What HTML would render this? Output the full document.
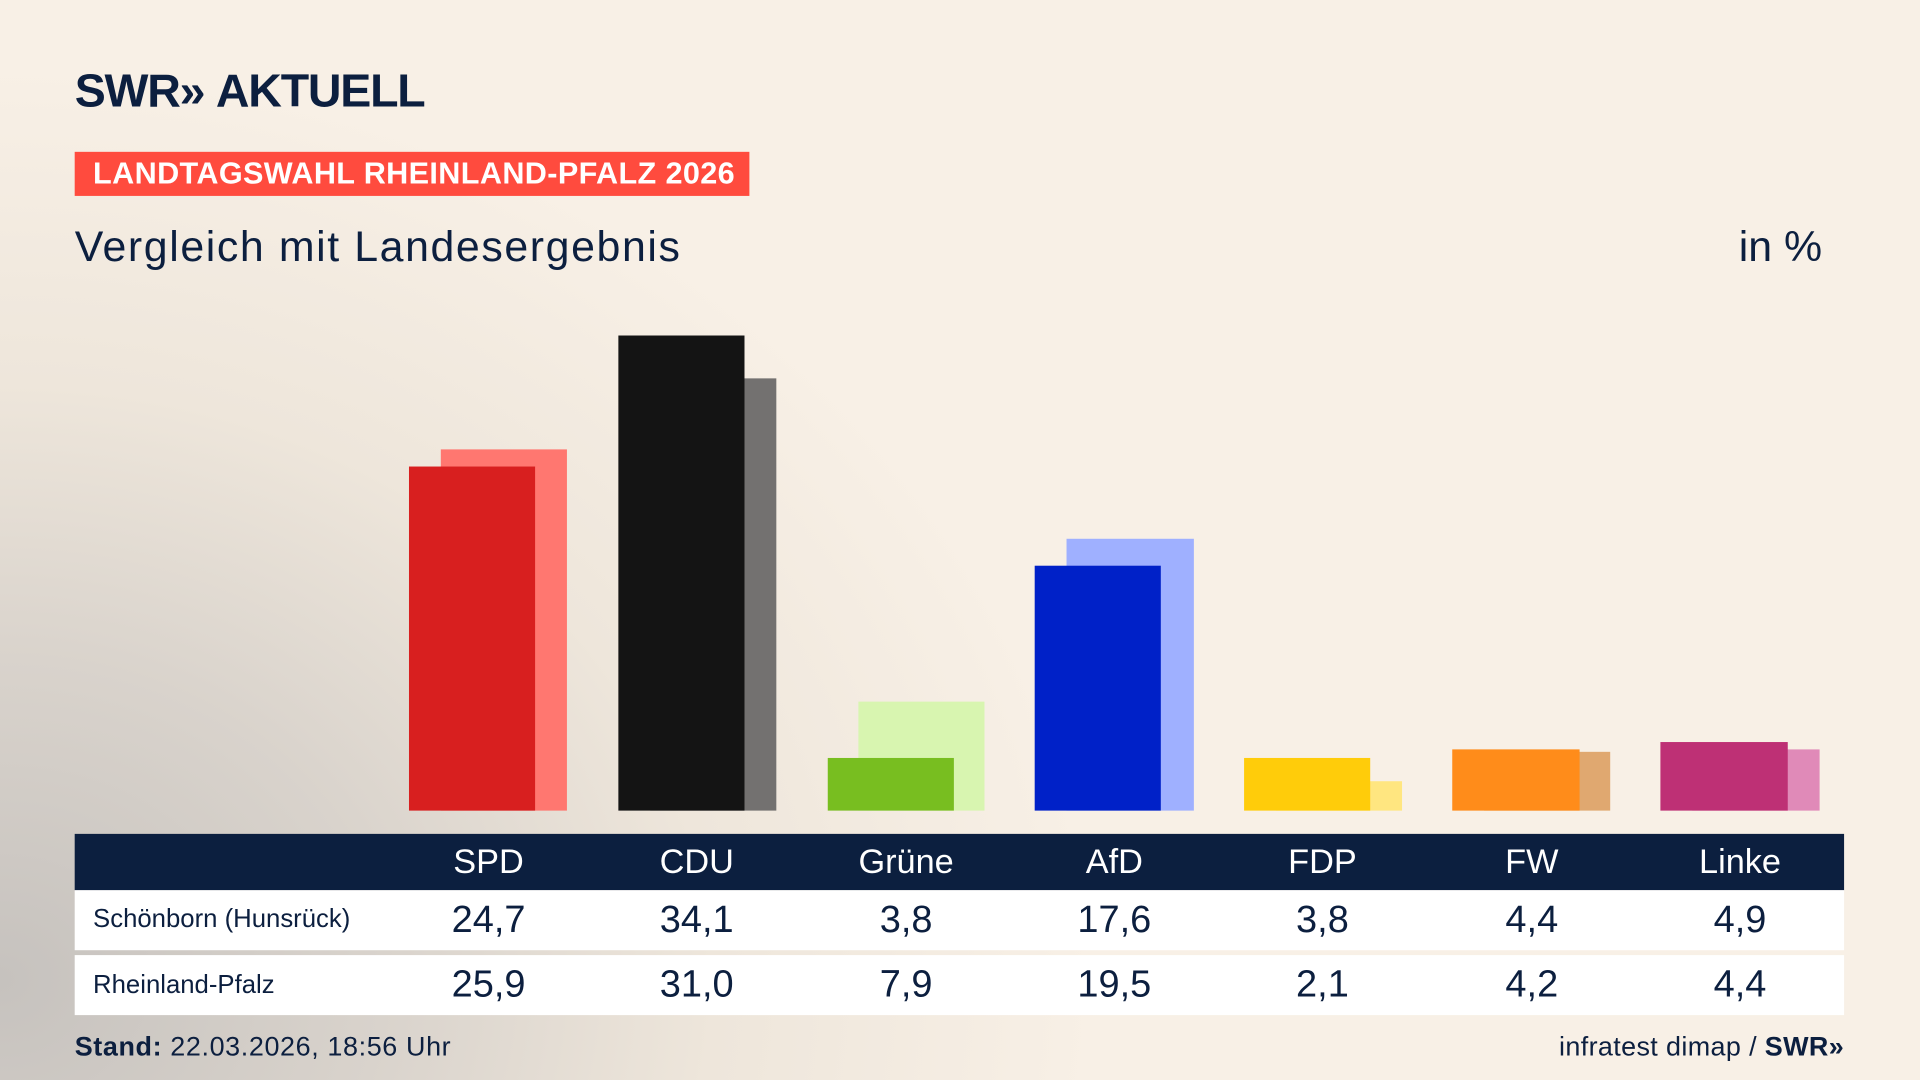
<!DOCTYPE html>
<html><head><meta charset="utf-8">
<style>
html,body{margin:0;padding:0;width:1920px;height:1080px;overflow:hidden;}
#w{position:absolute;left:0;top:0;width:1568px;height:882px;transform:scale(1.22449);transform-origin:0 0;
background:radial-gradient(ellipse 900px 750px at 0px 800px,#c6c2be 0%,#d9d3cc 35%,#eee6db 65%,#f8f0e6 100%);
font-family:"Liberation Sans",sans-serif;color:#0c1f3f;}
.a{position:absolute;}
.b{position:absolute;}
.hd{position:absolute;top:681px;left:61px;width:1445px;height:46px;background:#0c1f3f;}
.r{position:absolute;left:61px;width:1445px;height:49px;background:#fff;}
.c{position:absolute;width:160px;text-align:center;margin-left:-80px;}
</style></head><body><div id="w">
<div class="a" style="left:61px;top:54px;font-size:38px;font-weight:bold;letter-spacing:-1px;color:#0c1f3f;">SWR»&nbsp;AKTUELL</div>
<div class="a" style="left:61px;top:124px;width:551px;height:36px;background:#ff4b3e;"></div>
<div class="a" style="left:76px;top:128px;font-size:25px;font-weight:bold;color:#fff;letter-spacing:0.3px;">LANDTAGSWAHL RHEINLAND-PFALZ 2026</div>
<div class="a" style="left:61px;top:182px;font-size:35px;letter-spacing:1.3px;">Vergleich mit Landesergebnis</div>
<div class="a" style="left:1420px;top:182px;font-size:35px;">in %</div>

<div class="b" style="left:360px;top:367px;width:103px;height:295px;background:#ff7770"></div>
<div class="b" style="left:334px;top:381px;width:103px;height:281px;background:#d81f1f"></div>
<div class="b" style="left:531px;top:309px;width:103px;height:353px;background:#737170"></div>
<div class="b" style="left:505px;top:274px;width:103px;height:388px;background:#141414"></div>
<div class="b" style="left:701px;top:573px;width:103px;height:89px;background:#d8f5b0"></div>
<div class="b" style="left:676px;top:619px;width:103px;height:43px;background:#78be20"></div>
<div class="b" style="left:871px;top:440px;width:104px;height:222px;background:#9fb0ff"></div>
<div class="b" style="left:845px;top:462px;width:103px;height:200px;background:#0021c8"></div>
<div class="b" style="left:1042px;top:638px;width:103px;height:24px;background:#ffe680"></div>
<div class="b" style="left:1016px;top:619px;width:103px;height:43px;background:#ffcc0a"></div>
<div class="b" style="left:1212px;top:614px;width:103px;height:48px;background:#e0a870"></div>
<div class="b" style="left:1186px;top:612px;width:104px;height:50px;background:#ff8c1a"></div>
<div class="b" style="left:1382px;top:612px;width:104px;height:50px;background:#e08ab8"></div>
<div class="b" style="left:1356px;top:606px;width:104px;height:56px;background:#be3075"></div>

<div class="hd"></div>
<div class="r" style="top:727px"></div>
<div class="r" style="top:780px"></div>
<div style="position:absolute;left:0;top:688px;width:1568px;font-size:28px;color:#fff;">
<div class="c" style="left:399px">SPD</div><div class="c" style="left:569px">CDU</div><div class="c" style="left:740px">Grüne</div><div class="c" style="left:910px">AfD</div><div class="c" style="left:1080px">FDP</div><div class="c" style="left:1251px">FW</div><div class="c" style="left:1421px">Linke</div></div>
<div class="a" style="left:76px;top:739px;font-size:21px;">Schönborn (Hunsrück)</div>
<div class="a" style="left:76px;top:793px;font-size:21px;">Rheinland-Pfalz</div>
<div style="position:absolute;left:0;top:733px;width:1568px;font-size:31px;">
<div class="c" style="left:399px">24,7</div><div class="c" style="left:569px">34,1</div><div class="c" style="left:740px">3,8</div><div class="c" style="left:910px">17,6</div><div class="c" style="left:1080px">3,8</div><div class="c" style="left:1251px">4,4</div><div class="c" style="left:1421px">4,9</div></div>
<div style="position:absolute;left:0;top:786px;width:1568px;font-size:31px;">
<div class="c" style="left:399px">25,9</div><div class="c" style="left:569px">31,0</div><div class="c" style="left:740px">7,9</div><div class="c" style="left:910px">19,5</div><div class="c" style="left:1080px">2,1</div><div class="c" style="left:1251px">4,2</div><div class="c" style="left:1421px">4,4</div></div>
<div class="a" style="left:61px;top:842px;font-size:22px;letter-spacing:0.5px;"><b>Stand:</b> 22.03.2026, 18:56 Uhr</div>
<div class="a" style="right:62px;top:842px;font-size:22px;letter-spacing:0.3px;">infratest dimap / <b>SWR»</b></div>
</div></body></html>
